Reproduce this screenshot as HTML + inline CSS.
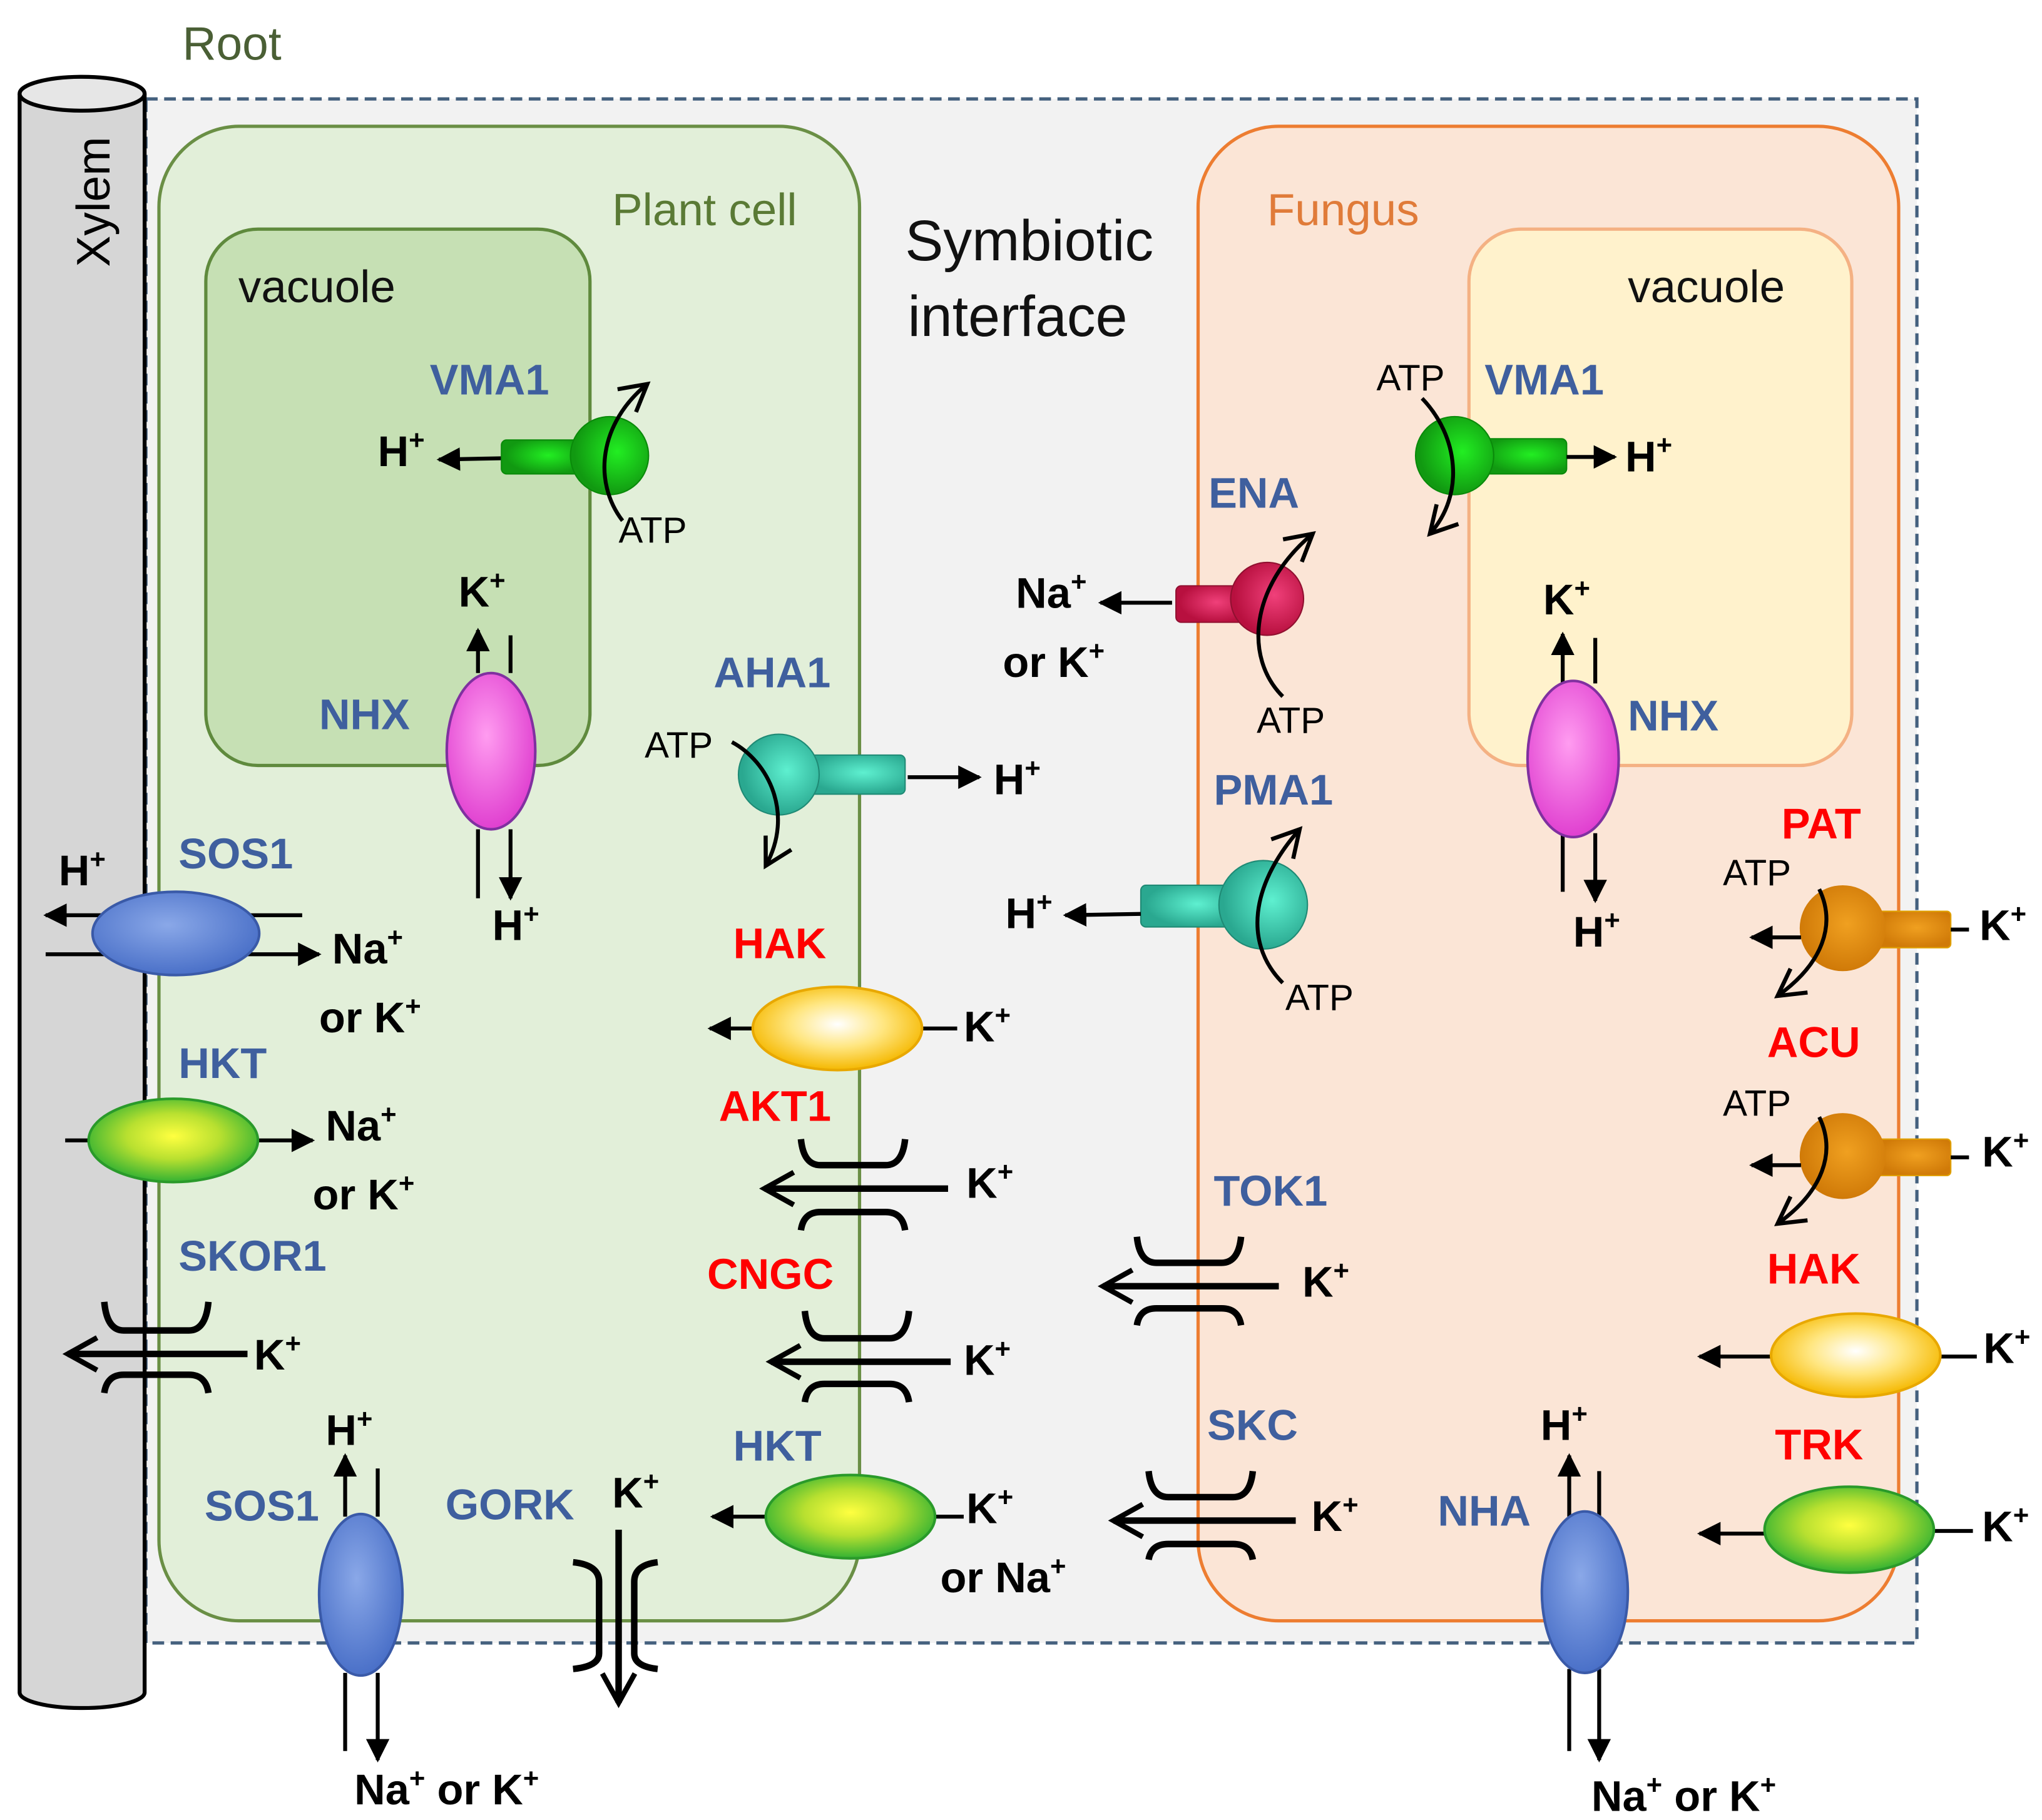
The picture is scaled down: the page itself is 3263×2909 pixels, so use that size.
<!DOCTYPE html>
<html><head><meta charset="utf-8"><style>
html,body{margin:0;padding:0;background:#fff;}
svg{display:block;}
text{font-family:"Liberation Sans",sans-serif;}
.b{font-weight:bold;fill:#3f5f9e;font-size:33px;}
.r{font-weight:bold;fill:#ff0000;font-size:33px;}
.k{font-weight:bold;fill:#000;font-size:33px;}
.a{fill:#000;font-size:28px;}
.ln{stroke:#000;stroke-width:3;fill:none;}
.ch{stroke:#000;stroke-width:5;fill:none;}
.ar{stroke:#000;stroke-width:3;fill:none;}
</style></head><body>
<svg width="3263" height="2909" viewBox="0 0 1568 1398" xmlns="http://www.w3.org/2000/svg">
<defs>
<marker id="s" viewBox="0 0 10 10" refX="9" refY="5" markerWidth="6" markerHeight="6" orient="auto" markerUnits="strokeWidth"><path d="M0,0 L10,5 L0,10 z" fill="#000"/></marker>
<marker id="o" viewBox="0 0 12 12" refX="10" refY="6" markerWidth="6" markerHeight="6" orient="auto" markerUnits="strokeWidth"><path d="M1,1 L10,6 L1,11" fill="none" stroke="#000" stroke-width="1.6"/></marker>
<marker id="oc" viewBox="0 0 12 12" refX="10" refY="6" markerWidth="9" markerHeight="9" orient="auto" markerUnits="strokeWidth"><path d="M1,1 L10,6 L1,11" fill="none" stroke="#000" stroke-width="1.4"/></marker>
<radialGradient id="gy" cx="50%" cy="45%" r="55%"><stop offset="0" stop-color="#ffff40"/><stop offset="0.5" stop-color="#b8e030"/><stop offset="1" stop-color="#33b233"/></radialGradient>
<radialGradient id="yy" cx="50%" cy="45%" r="55%"><stop offset="0" stop-color="#ffffff"/><stop offset="0.5" stop-color="#ffe680"/><stop offset="1" stop-color="#f5b800"/></radialGradient>
<radialGradient id="bl" cx="45%" cy="40%" r="60%"><stop offset="0" stop-color="#8aa8e8"/><stop offset="1" stop-color="#4a70c8"/></radialGradient>
<radialGradient id="mg" cx="45%" cy="40%" r="60%"><stop offset="0" stop-color="#ff9cf0"/><stop offset="1" stop-color="#e040d0"/></radialGradient>
<radialGradient id="gr" cx="60%" cy="45%" r="55%"><stop offset="0" stop-color="#22ee22"/><stop offset="1" stop-color="#119911"/></radialGradient>
<radialGradient id="tl" cx="60%" cy="45%" r="55%"><stop offset="0" stop-color="#5ef0d0"/><stop offset="1" stop-color="#2aa890"/></radialGradient>
<radialGradient id="rd" cx="60%" cy="45%" r="55%"><stop offset="0" stop-color="#f0407a"/><stop offset="1" stop-color="#b8103f"/></radialGradient>
<radialGradient id="or" cx="55%" cy="45%" r="55%"><stop offset="0" stop-color="#f0a020"/><stop offset="1" stop-color="#d07a08"/></radialGradient>
</defs>
<rect width="1568" height="1398" fill="#fff"/>
<text x="140" y="46" font-size="36" fill="#4a5f35">Root</text>
<rect x="112" y="76" width="1360" height="1186" fill="#f2f2f2" stroke="#44607e" stroke-width="2.5" stroke-dasharray="9,5"/>
<!-- xylem -->
<path d="M15,72 L15,1300 A48,12 0 0 0 111,1300 L111,72" fill="#d6d6d6" stroke="#000" stroke-width="3"/>
<ellipse cx="63" cy="72" rx="48" ry="13" fill="#e6e6e6" stroke="#000" stroke-width="3"/>
<text transform="translate(84,205) rotate(-90)" font-size="36" fill="#000">Xylem</text>
<!-- plant cell -->
<rect x="122" y="97" width="538" height="1148" rx="62" fill="#e2efd9" stroke="#6a8f45" stroke-width="2.5"/>
<rect x="158" y="176" width="295" height="412" rx="40" fill="#c6e0b4" stroke="#5f8a3d" stroke-width="2.5"/>
<text x="470" y="173" font-size="35" fill="#5a7a35">Plant cell</text>
<text x="183" y="232" font-size="35" fill="#111">vacuole</text>
<!-- fungus -->
<rect x="920" y="97" width="538" height="1148" rx="62" fill="#fbe5d6" stroke="#ed7d31" stroke-width="2.5"/>
<rect x="1128" y="176" width="294" height="412" rx="40" fill="#fff2cc" stroke="#f4b183" stroke-width="2.5"/>
<text x="973" y="173" font-size="35" fill="#e07b39">Fungus</text>
<text x="1250" y="232" font-size="35" fill="#111">vacuole</text>
<text x="695" y="200" font-size="44" fill="#111">Symbiotic</text>
<text x="697" y="258" font-size="44" fill="#111">interface</text>

<!-- plant VMA1 -->
<text x="330" y="303" class="b">VMA1</text>
<line x1="385" y1="352" x2="337" y2="353" class="ln" marker-end="url(#s)"/>
<text x="290" y="358" class="k">H<tspan dy="-13" font-size="21">+</tspan></text>
<rect x="385" y="338" width="60" height="26" rx="4" fill="url(#gr)" stroke="#0a8a0a"/>
<circle cx="468" cy="350" r="30" fill="url(#gr)" stroke="#0a8a0a"/>
<path d="M478,400 C455,370 460,325 497,295" class="ar" marker-end="url(#oc)"/>
<text x="475" y="417" class="a">ATP</text>
<!-- plant NHX -->
<text x="245" y="560" class="b">NHX</text>
<text x="352" y="466" class="k">K<tspan dy="-13" font-size="21">+</tspan></text>
<line x1="367" y1="517" x2="367" y2="484" class="ln" marker-end="url(#s)"/>
<line x1="392" y1="488" x2="392" y2="517" class="ln"/>
<line x1="367" y1="637" x2="367" y2="690" class="ln"/>
<line x1="392" y1="637" x2="392" y2="690" class="ln" marker-end="url(#s)"/>
<ellipse cx="377" cy="577" rx="34" ry="60" fill="url(#mg)" stroke="#8030a0" stroke-width="2"/>
<text x="378" y="722" class="k">H<tspan dy="-13" font-size="21">+</tspan></text>
<!-- AHA1 -->
<text x="548" y="528" class="b">AHA1</text>
<rect x="615" y="580" width="80" height="30" rx="4" fill="url(#tl)" stroke="#1f8a75"/>
<circle cx="598" cy="595" r="31" fill="url(#tl)" stroke="#1f8a75"/>
<line x1="697" y1="597" x2="752" y2="597" class="ln" marker-end="url(#s)"/>
<text x="763" y="610" class="k">H<tspan dy="-13" font-size="21">+</tspan></text>
<text x="495" y="582" class="a">ATP</text>
<path d="M562,570 C590,585 610,625 588,665" class="ar" marker-end="url(#oc)"/>
<!-- SOS1 upper -->
<text x="137" y="667" class="b">SOS1</text>
<text x="45" y="680" class="k">H<tspan dy="-13" font-size="21">+</tspan></text>
<line x1="232" y1="703" x2="35" y2="703" class="ln" marker-end="url(#s)"/>
<line x1="35" y1="733" x2="245" y2="733" class="ln" marker-end="url(#s)"/>
<ellipse cx="135" cy="717" rx="64" ry="32" fill="url(#bl)" stroke="#3a5aa8" stroke-width="2"/>
<text x="255" y="740" class="k">Na<tspan dy="-13" font-size="21">+</tspan></text>
<text x="245" y="793" class="k">or K<tspan dy="-13" font-size="21">+</tspan></text>
<!-- HKT left -->
<text x="137" y="828" class="b">HKT</text>
<line x1="50" y1="876" x2="240" y2="876" class="ln" marker-end="url(#s)"/>
<ellipse cx="133" cy="876" rx="65" ry="32" fill="url(#gy)" stroke="#2a9a2a" stroke-width="2"/>
<text x="250" y="876" class="k">Na<tspan dy="-13" font-size="21">+</tspan></text>
<text x="240" y="929" class="k">or K<tspan dy="-13" font-size="21">+</tspan></text>
<!-- SKOR1 -->
<text x="137" y="976" class="b">SKOR1</text>
<path d="M80,1000 Q82,1022 95,1022 L145,1022 Q158,1022 160,1000" class="ch"/>
<path d="M80,1070 Q82,1056 95,1056 L145,1056 Q158,1056 160,1070" class="ch"/>
<line x1="190" y1="1040" x2="52" y2="1040" class="ch" marker-end="url(#o)"/>
<text x="195" y="1052" class="k">K<tspan dy="-13" font-size="21">+</tspan></text>
<!-- SOS1 bottom -->
<text x="157" y="1168" class="b">SOS1</text>
<text x="250" y="1110" class="k">H<tspan dy="-13" font-size="21">+</tspan></text>
<line x1="265" y1="1165" x2="265" y2="1118" class="ln" marker-end="url(#s)"/>
<line x1="290" y1="1128" x2="290" y2="1165" class="ln"/>
<line x1="265" y1="1285" x2="265" y2="1345" class="ln"/>
<line x1="290" y1="1285" x2="290" y2="1352" class="ln" marker-end="url(#s)"/>
<ellipse cx="277" cy="1225" rx="32" ry="62" fill="url(#bl)" stroke="#3a5aa8" stroke-width="2"/>
<text x="272" y="1386" class="k">Na<tspan dy="-13" font-size="21">+</tspan><tspan dy="13"> or K</tspan><tspan dy="-13" font-size="21">+</tspan></text>
<!-- GORK -->
<text x="342" y="1167" class="b">GORK</text>
<text x="470" y="1158" class="k">K<tspan dy="-13" font-size="21">+</tspan></text>
<path d="M440,1200 Q460,1202 460,1215 L460,1270 Q460,1280 440,1282" class="ch"/>
<path d="M505,1200 Q487,1202 487,1215 L487,1270 Q487,1280 505,1282" class="ch"/>
<line x1="475" y1="1175" x2="475" y2="1308" class="ch" marker-end="url(#o)"/>
<!-- HAK plant -->
<text x="563" y="736" class="r">HAK</text>
<line x1="578" y1="790" x2="545" y2="790" class="ln" marker-end="url(#s)"/>
<line x1="708" y1="790" x2="735" y2="790" class="ln"/>
<ellipse cx="643" cy="790" rx="65" ry="32" fill="url(#yy)" stroke="#e8a800" stroke-width="2"/>
<text x="740" y="800" class="k">K<tspan dy="-13" font-size="21">+</tspan></text>
<!-- AKT1 -->
<text x="552" y="861" class="r">AKT1</text>
<path d="M615,875 Q617,895 630,895 L680,895 Q693,895 695,875" class="ch"/>
<path d="M615,945 Q617,931 630,931 L680,931 Q693,931 695,945" class="ch"/>
<line x1="728" y1="913" x2="587" y2="913" class="ch" marker-end="url(#o)"/>
<text x="742" y="920" class="k">K<tspan dy="-13" font-size="21">+</tspan></text>
<!-- CNGC -->
<text x="543" y="990" class="r">CNGC</text>
<path d="M618,1007 Q620,1028 633,1028 L683,1028 Q696,1028 698,1007" class="ch"/>
<path d="M618,1077 Q620,1063 633,1063 L683,1063 Q696,1063 698,1077" class="ch"/>
<line x1="730" y1="1046" x2="592" y2="1046" class="ch" marker-end="url(#o)"/>
<text x="740" y="1056" class="k">K<tspan dy="-13" font-size="21">+</tspan></text>
<!-- HKT plant -->
<text x="563" y="1122" class="b">HKT</text>
<line x1="588" y1="1165" x2="547" y2="1165" class="ln" marker-end="url(#s)"/>
<line x1="718" y1="1165" x2="740" y2="1165" class="ln"/>
<ellipse cx="653" cy="1165" rx="65" ry="32" fill="url(#gy)" stroke="#2a9a2a" stroke-width="2"/>
<text x="742" y="1170" class="k">K<tspan dy="-13" font-size="21">+</tspan></text>
<text x="722" y="1223" class="k">or Na<tspan dy="-13" font-size="21">+</tspan></text>

<!-- fungus VMA1 -->
<text x="1140" y="303" class="b">VMA1</text>
<text x="1057" y="300" class="a">ATP</text>
<rect x="1135" y="337" width="68" height="27" rx="4" fill="url(#gr)" stroke="#0a8a0a"/>
<circle cx="1117" cy="350" r="30" fill="url(#gr)" stroke="#0a8a0a"/>
<line x1="1203" y1="351" x2="1240" y2="351" class="ln" marker-end="url(#s)"/>
<text x="1248" y="362" class="k">H<tspan dy="-13" font-size="21">+</tspan></text>
<path d="M1092,306 C1120,335 1125,380 1098,410" class="ar" marker-end="url(#oc)"/>
<!-- ENA -->
<text x="928" y="390" class="r" style="fill:#3f5f9e">ENA</text>
<rect x="903" y="450" width="52" height="28" rx="4" fill="url(#rd)" stroke="#901030"/>
<circle cx="973" cy="460" r="28" fill="url(#rd)" stroke="#901030"/>
<line x1="900" y1="463" x2="845" y2="463" class="ln" marker-end="url(#s)"/>
<text x="780" y="467" class="k">Na<tspan dy="-13" font-size="21">+</tspan></text>
<text x="770" y="520" class="k">or K<tspan dy="-13" font-size="21">+</tspan></text>
<path d="M985,535 C955,505 960,450 1008,410" class="ar" marker-end="url(#oc)"/>
<text x="965" y="563" class="a">ATP</text>
<!-- PMA1 -->
<text x="932" y="618" class="b">PMA1</text>
<rect x="876" y="680" width="72" height="32" rx="4" fill="url(#tl)" stroke="#1f8a75"/>
<circle cx="970" cy="695" r="34" fill="url(#tl)" stroke="#1f8a75"/>
<line x1="876" y1="702" x2="818" y2="703" class="ln" marker-end="url(#s)"/>
<text x="772" y="713" class="k">H<tspan dy="-13" font-size="21">+</tspan></text>
<path d="M985,755 C955,725 960,680 998,637" class="ar" marker-end="url(#oc)"/>
<text x="987" y="776" class="a">ATP</text>
<!-- NHX fungus -->
<text x="1250" y="561" class="b">NHX</text>
<text x="1185" y="472" class="k">K<tspan dy="-13" font-size="21">+</tspan></text>
<line x1="1200" y1="525" x2="1200" y2="487" class="ln" marker-end="url(#s)"/>
<line x1="1225" y1="490" x2="1225" y2="525" class="ln"/>
<line x1="1200" y1="640" x2="1200" y2="685" class="ln"/>
<line x1="1225" y1="640" x2="1225" y2="692" class="ln" marker-end="url(#s)"/>
<ellipse cx="1208" cy="583" rx="35" ry="60" fill="url(#mg)" stroke="#8030a0" stroke-width="2"/>
<text x="1208" y="727" class="k">H<tspan dy="-13" font-size="21">+</tspan></text>
<!-- PAT -->
<text x="1368" y="644" class="r">PAT</text>
<text x="1323" y="680" class="a">ATP</text>
<rect x="1440" y="700" width="58" height="28" rx="3" fill="url(#or)" stroke="#e0a000"/>
<circle cx="1415" cy="713" r="33" fill="url(#or)"/>
<line x1="1383" y1="720" x2="1345" y2="720" class="ln" marker-end="url(#s)"/>
<line x1="1498" y1="714" x2="1512" y2="714" class="ln"/>
<path d="M1397,683 C1410,710 1400,740 1365,765" class="ar" marker-end="url(#oc)"/>
<text x="1520" y="722" class="k">K<tspan dy="-13" font-size="21">+</tspan></text>
<!-- ACU -->
<text x="1357" y="812" class="r">ACU</text>
<text x="1323" y="857" class="a">ATP</text>
<rect x="1440" y="875" width="58" height="28" rx="3" fill="url(#or)" stroke="#e0a000"/>
<circle cx="1415" cy="888" r="33" fill="url(#or)"/>
<line x1="1383" y1="895" x2="1345" y2="895" class="ln" marker-end="url(#s)"/>
<line x1="1498" y1="889" x2="1512" y2="889" class="ln"/>
<path d="M1397,858 C1410,885 1400,915 1365,940" class="ar" marker-end="url(#oc)"/>
<text x="1522" y="896" class="k">K<tspan dy="-13" font-size="21">+</tspan></text>
<!-- HAK fungus -->
<text x="1357" y="986" class="r">HAK</text>
<line x1="1360" y1="1042" x2="1305" y2="1042" class="ln" marker-end="url(#s)"/>
<line x1="1490" y1="1042" x2="1518" y2="1042" class="ln"/>
<ellipse cx="1425" cy="1041" rx="65" ry="32" fill="url(#yy)" stroke="#e8a800" stroke-width="2"/>
<text x="1523" y="1047" class="k">K<tspan dy="-13" font-size="21">+</tspan></text>
<!-- TRK -->
<text x="1363" y="1121" class="r">TRK</text>
<line x1="1355" y1="1178" x2="1305" y2="1178" class="ln" marker-end="url(#s)"/>
<line x1="1485" y1="1176" x2="1515" y2="1176" class="ln"/>
<ellipse cx="1420" cy="1175" rx="65" ry="33" fill="url(#gy)" stroke="#2a9a2a" stroke-width="2"/>
<text x="1522" y="1184" class="k">K<tspan dy="-13" font-size="21">+</tspan></text>
<!-- NHA -->
<text x="1104" y="1172" class="b">NHA</text>
<text x="1183" y="1106" class="k">H<tspan dy="-13" font-size="21">+</tspan></text>
<line x1="1205" y1="1165" x2="1205" y2="1118" class="ln" marker-end="url(#s)"/>
<line x1="1228" y1="1130" x2="1228" y2="1165" class="ln"/>
<line x1="1205" y1="1282" x2="1205" y2="1345" class="ln"/>
<line x1="1228" y1="1282" x2="1228" y2="1352" class="ln" marker-end="url(#s)"/>
<ellipse cx="1217" cy="1223" rx="33" ry="62" fill="url(#bl)" stroke="#3a5aa8" stroke-width="2"/>
<text x="1222" y="1391" class="k">Na<tspan dy="-13" font-size="21">+</tspan><tspan dy="13"> or K</tspan><tspan dy="-13" font-size="21">+</tspan></text>
<!-- TOK1 -->
<text x="932" y="926" class="b">TOK1</text>
<path d="M873,950 Q875,970 888,970 L938,970 Q951,970 953,950" class="ch"/>
<path d="M873,1018 Q875,1005 888,1005 L938,1005 Q951,1005 953,1018" class="ch"/>
<line x1="982" y1="988" x2="847" y2="988" class="ch" marker-end="url(#o)"/>
<text x="1000" y="996" class="k">K<tspan dy="-13" font-size="21">+</tspan></text>
<!-- SKC -->
<text x="927" y="1106" class="b">SKC</text>
<path d="M882,1130 Q884,1150 897,1150 L947,1150 Q960,1150 962,1130" class="ch"/>
<path d="M882,1198 Q884,1186 897,1186 L947,1186 Q960,1186 962,1198" class="ch"/>
<line x1="995" y1="1168" x2="855" y2="1168" class="ch" marker-end="url(#o)"/>
<text x="1007" y="1176" class="k">K<tspan dy="-13" font-size="21">+</tspan></text>
</svg>
</body></html>
